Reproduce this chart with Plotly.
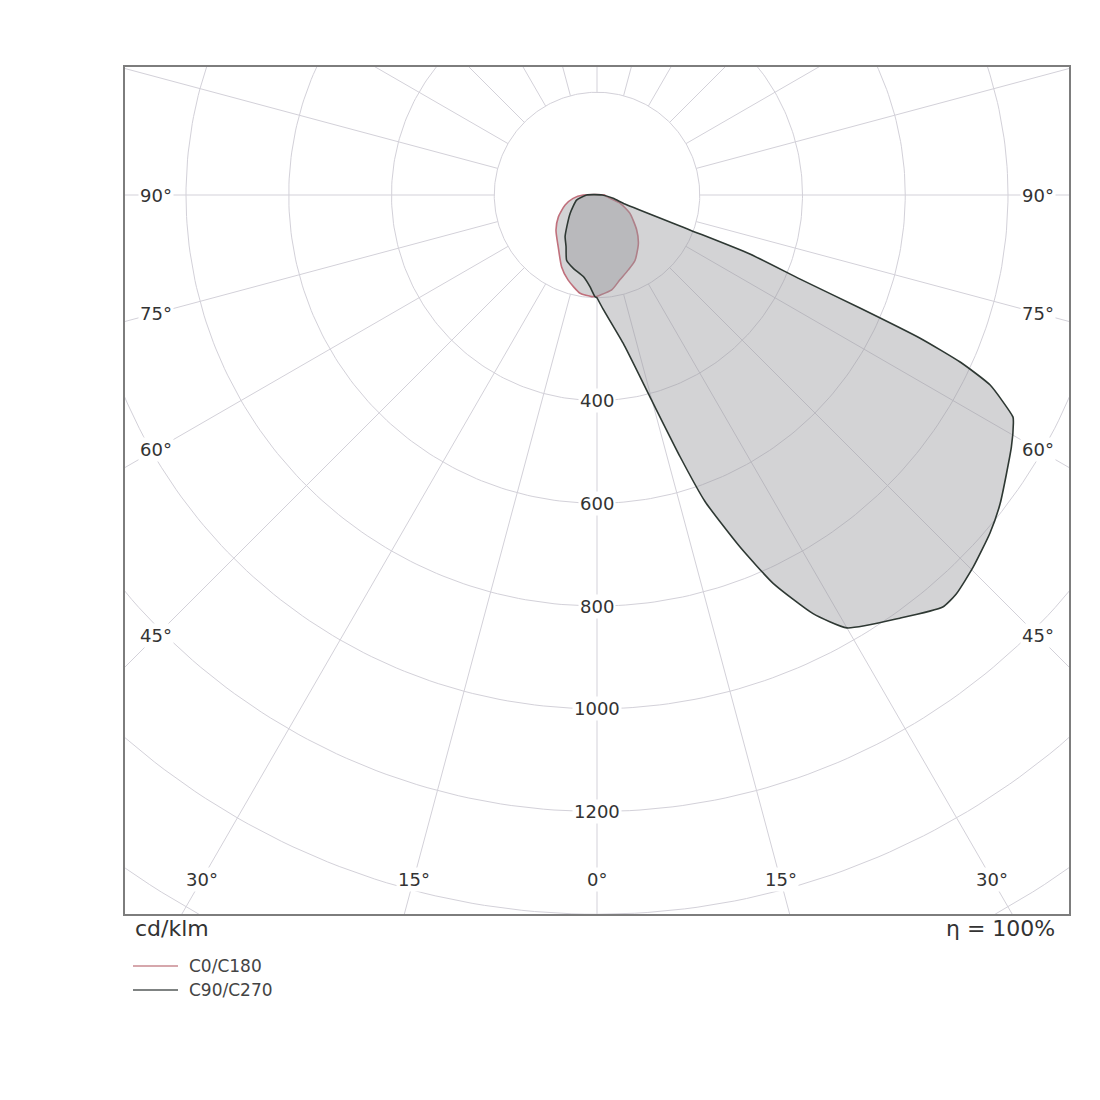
import numpy as np
import plotly.graph_objects as go

# ---------------- data (cd/klm) ----------------
gamma_c90 = [0, 3, 10, 14.8, 17.6, 19.4, 22.1, 24.4, 27.3, 30, 35.6, 40, 42,
             45.3, 49.3, 52.6, 58.7, 61.3, 61.9, 64.2, 65.3, 66.1, 66.75, 67.5,
             68.9, 69.4, 72, 78.6, 90]
i_c90 = [200, 222, 293, 410, 534, 632, 739, 830, 917, 973, 1013, 1047, 1045,
         1030, 1009, 988, 944, 924, 918, 850, 778, 688, 557, 428,
         319, 193, 57, 32, 10]

gamma_c270 = [0, 1.1, 4.4, 9.5, 17.9, 25, 31, 37.5, 43.7, 55.9, 76, 90]
i_c270 = [200, 198, 179, 161, 150, 140, 117, 102, 85, 63, 41, 20]

gamma_c0 = [0, 1.7, 8.8, 15.1, 22.7, 30.3, 40.5, 48.6, 61, 70.2, 80, 90]
i_c0 = [197, 195, 187, 171, 158, 147, 124, 103, 73, 48, 19, 15]

gamma_c180 = [0, 3, 9.8, 18.7, 26.2, 36.8, 49.5, 60.7, 72.6, 82, 90]
i_c180 = [197, 198, 194, 175, 156, 126, 105, 86, 65, 47, 27]

radial_ticks = [400, 600, 800, 1000, 1200]
grid_circles = [200, 400, 600, 800, 1000, 1200, 1400, 1600, 1800]
spoke_step = 15
side_angle_labels = [90, 75, 60, 45]
bottom_angle_labels = [30, 15, 0]

unit_label = "cd/klm"
eta_label = "η = 100%"
series_names = ["C0/C180", "C90/C270"]

# ---------------- styling ----------------
GRID = "#d3d1d9"
RED = "#c0707c"
DARK = "#2e3833"
FILL = "rgba(150,150,156,0.42)"
TXT = "#333333"
FONT = "DejaVu Sans"


def half_plane(gam_left, val_left, gam_right, val_right):
    gl = np.radians(np.array(gam_left, float))[::-1]
    vl = np.array(val_left, float)[::-1]
    gr = np.radians(np.array(gam_right, float))
    vr = np.array(val_right, float)
    x = np.concatenate([-vl * np.sin(gl), vr * np.sin(gr)])
    y = np.concatenate([-vl * np.cos(gl), -vr * np.cos(gr)])
    # close the outline
    x = np.append(x, x[0])
    y = np.append(y, y[0])
    return x, y


fig = go.Figure()

# grid circles
t = np.linspace(0, 2 * np.pi, 361)
for r in grid_circles:
    fig.add_trace(go.Scatter(x=r * np.sin(t), y=-r * np.cos(t), mode="lines",
                             line=dict(color=GRID, width=1), hoverinfo="skip",
                             showlegend=False))
# spokes
for a in range(0, 360, spoke_step):
    ar = np.radians(a)
    r0, r1 = grid_circles[0], 3000
    fig.add_trace(go.Scatter(x=[r0 * np.sin(ar), r1 * np.sin(ar)],
                             y=[-r0 * np.cos(ar), -r1 * np.cos(ar)], mode="lines",
                             line=dict(color=GRID, width=1), hoverinfo="skip",
                             showlegend=False))

# curves
xr, yr = half_plane(gamma_c180, i_c180, gamma_c0, i_c0)
xd, yd = half_plane(gamma_c270, i_c270, gamma_c90, i_c90)
fig.add_trace(go.Scatter(x=xr, y=yr, mode="lines", fill="toself", fillcolor=FILL,
                         line=dict(color=RED, width=1.6, shape="spline", smoothing=0.6),
                         name=series_names[0], showlegend=False))
fig.add_trace(go.Scatter(x=xd, y=yd, mode="lines", fill="toself", fillcolor=FILL,
                         line=dict(color=DARK, width=1.6, shape="spline", smoothing=0.5),
                         name=series_names[1], showlegend=False))

annotations = []
for v in radial_ticks:
    annotations.append(dict(x=0, y=-v, text=str(v), showarrow=False,
                            font=dict(family=FONT, size=18, color=TXT),
                            bgcolor="white", borderpad=1))

SIDE_X = 858
BOTTOM_Y = -1333
for g in side_angle_labels:
    yy = -SIDE_X / np.tan(np.radians(g)) if g != 90 else 0
    for s in (-1, 1):
        annotations.append(dict(x=s * SIDE_X, y=yy, text=f"{g}°", showarrow=False,
                                font=dict(family=FONT, size=18, color=TXT),
                                bgcolor="white", borderpad=1))
for g in bottom_angle_labels:
    xx = -BOTTOM_Y * np.tan(np.radians(g))
    sides = (1,) if g == 0 else (-1, 1)
    for s in sides:
        annotations.append(dict(x=s * xx, y=BOTTOM_Y, text=f"{g}°", showarrow=False,
                                font=dict(family=FONT, size=18, color=TXT),
                                bgcolor="white", borderpad=1))

# bottom texts (paper coords)
PW, PH = 944.0, 847.0
annotations.append(dict(xref="paper", yref="paper", x=(133 - 125) / PW, y=(914 - 928) / PH,
                        text=unit_label, showarrow=False, xanchor="left", yanchor="middle",
                        font=dict(family=FONT, size=22, color=TXT)))
annotations.append(dict(xref="paper", yref="paper", x=(1057 - 125) / PW, y=(914 - 928) / PH,
                        text=eta_label, showarrow=False, xanchor="right", yanchor="middle",
                        font=dict(family=FONT, size=22, color=TXT)))
shapes = []
for k, (nm, col) in enumerate(zip(series_names, ["#c98a90", "#555a58"])):
    yy = (914 - (966 + 24 * k)) / PH
    shapes.append(dict(type="line", xref="paper", yref="paper",
                       x0=(133 - 125) / PW, x1=(178 - 125) / PW, y0=yy, y1=yy,
                       line=dict(color=col, width=1.6)))
    annotations.append(dict(xref="paper", yref="paper", x=(187 - 125) / PW, y=yy,
                            text=nm, showarrow=False, xanchor="left", yanchor="middle",
                            font=dict(family=FONT, size=17, color="#444444")))

S = 0.51375  # px per cd/klm
fig.update_layout(
    width=1100, height=1100,
    margin=dict(l=125, r=31, t=67, b=186, pad=0),
    paper_bgcolor="white", plot_bgcolor="white",
    xaxis=dict(range=[-(597 - 125) / S, (1069 - 597) / S], showgrid=False, zeroline=False,
               showticklabels=False, ticks="", showline=True, mirror=True,
               linecolor="#7d7d7d", linewidth=2, fixedrange=True),
    yaxis=dict(range=[-(914 - 195) / S, (195 - 67) / S], showgrid=False, zeroline=False,
               showticklabels=False, ticks="", showline=True, mirror=True,
               linecolor="#7d7d7d", linewidth=2, fixedrange=True),
    annotations=annotations, shapes=shapes, showlegend=False,
)

fig.write_html("out.html", config={"displayModeBar": False},
               post_script="document.body.style.margin='0';document.body.style.overflow='hidden';")
